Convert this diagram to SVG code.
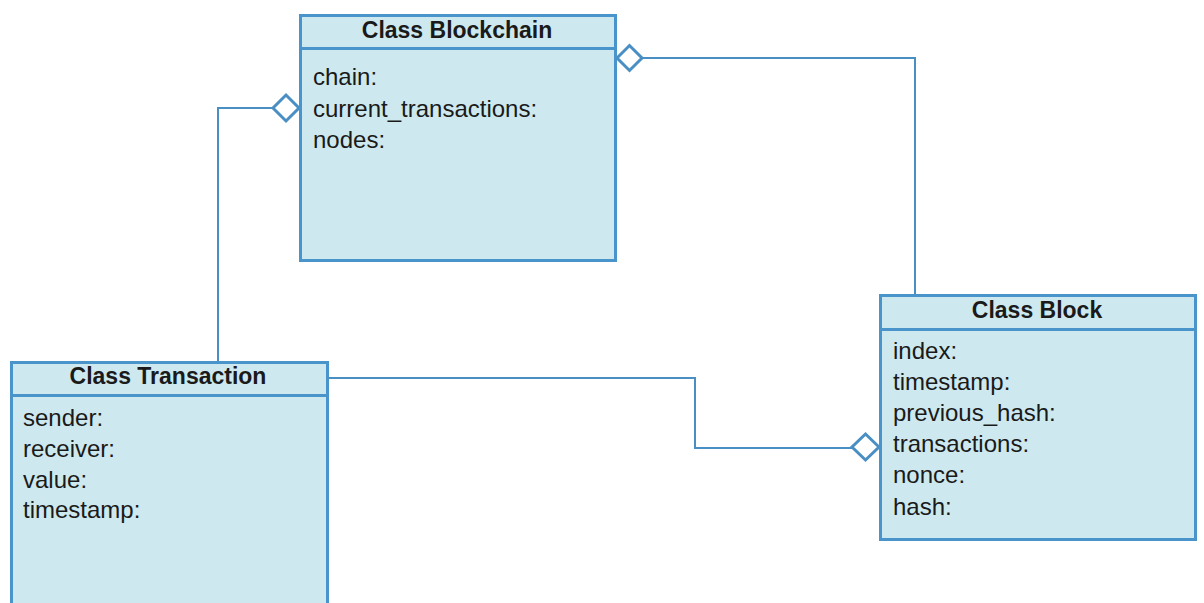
<svg xmlns="http://www.w3.org/2000/svg" width="1204" height="603" viewBox="0 0 1204 603">
  <style>
    .box { fill: #cde9ef; stroke: #4a94cc; stroke-width: 3; }
    .div { stroke: #4a94cc; stroke-width: 3; }
    .title { font-family: "Liberation Sans", Arial, sans-serif; font-size: 23px; font-weight: bold; fill: #1a1a1a; text-anchor: middle; }
    .attr { font-family: "Liberation Sans", Arial, sans-serif; font-size: 24px; fill: #1a1a1a; }
    .conn { fill: none; stroke: #4a8fc4; stroke-width: 2; }
    .agg { fill: #ffffff; stroke: #4a8fc4; stroke-width: 3; stroke-linejoin: miter; }
  </style>
  <rect width="1204" height="603" fill="#ffffff"/>

  <!-- connectors (drawn first so the boxes overlap their ends) -->
  <g id="connectors">
    <polyline class="conn" points="218,362 218,108 273,108"/>
    <polygon class="agg" points="299,108 286,95 273,108 286,121"/>

    <polyline class="conn" points="642,58 915,58 915,295"/>
    <polygon class="agg" points="617,58 629.5,45.5 642,58 629.5,70.5"/>

    <polyline class="conn" points="329,378 695,378 695,448 852,448"/>
    <polygon class="agg" points="879,447 865.5,434 852,447 865.5,460"/>
  </g>

  <g id="blockchain">
    <rect class="box" x="300.5" y="15.5" width="315" height="245"/>
    <line class="div" x1="300.5" y1="48.5" x2="615.5" y2="48.5"/>
    <text class="title" x="457" y="38">Class Blockchain</text>
    <text class="attr" x="313" y="85">chain:</text>
    <text class="attr" x="313" y="117">current_transactions:</text>
    <text class="attr" x="313" y="148">nodes:</text>
  </g>

  <g id="transaction">
    <rect class="box" x="11.5" y="362.5" width="316" height="250"/>
    <line class="div" x1="11.5" y1="395.5" x2="327.5" y2="395.5"/>
    <text class="title" x="168" y="384">Class Transaction</text>
    <text class="attr" x="23" y="426">sender:</text>
    <text class="attr" x="23" y="457">receiver:</text>
    <text class="attr" x="23" y="488">value:</text>
    <text class="attr" x="23" y="518">timestamp:</text>
  </g>

  <g id="block">
    <rect class="box" x="880.5" y="295.5" width="315" height="244"/>
    <line class="div" x1="880.5" y1="329.5" x2="1195.5" y2="329.5"/>
    <text class="title" x="1037" y="318">Class Block</text>
    <text class="attr" x="893" y="359">index:</text>
    <text class="attr" x="893" y="390">timestamp:</text>
    <text class="attr" x="893" y="421">previous_hash:</text>
    <text class="attr" x="893" y="452">transactions:</text>
    <text class="attr" x="893" y="483">nonce:</text>
    <text class="attr" x="893" y="515">hash:</text>
  </g>
</svg>
